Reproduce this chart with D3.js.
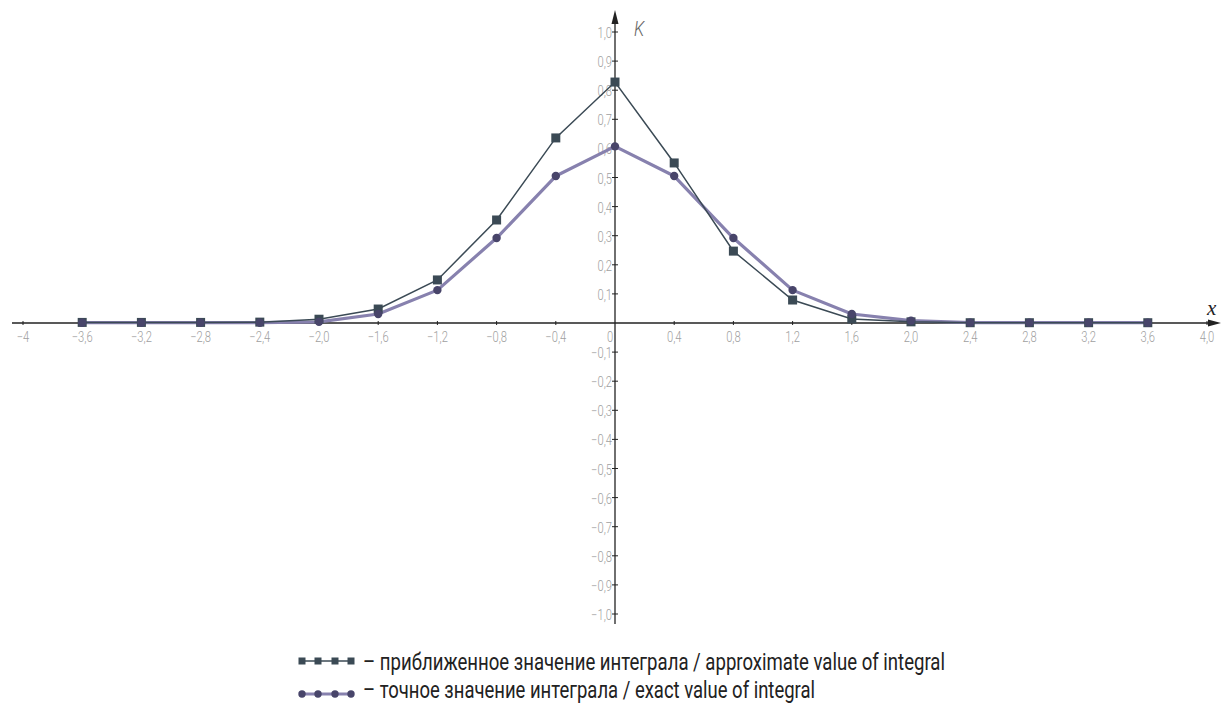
<!DOCTYPE html>
<html><head><meta charset="utf-8">
<script src="https://cdn.jsdelivr.net/npm/d3@7"></script>
<style>
body{margin:0;background:#fff;}
svg{display:block;}
.tick-label{font-family:"Roboto",sans-serif;font-size:14px;fill:#a0a0a0;font-weight:300;}
.legend{font-family:"Roboto",sans-serif;font-size:23px;fill:#222;}
</style></head>
<body>
<svg id="chart" width="1221" height="704"></svg>
<script>
const xValues = [-3.6,-3.2,-2.8,-2.4,-2.0,-1.6,-1.2,-0.8,-0.4,0,0.4,0.8,1.2,1.6,2.0,2.4,2.8,3.2,3.6];
const approxValues = [0.002,0.002,0.002,0.003,0.013,0.048,0.148,0.354,0.636,0.828,0.550,0.247,0.079,0.014,0.004,0.001,0.001,0.001,0.001];
const exactValues = [0.001,0.001,0.001,0.001,0.004,0.031,0.113,0.292,0.505,0.607,0.505,0.292,0.113,0.031,0.008,0.001,0.001,0.001,0.001];
const xTicks = [-4,-3.6,-3.2,-2.8,-2.4,-2.0,-1.6,-1.2,-0.8,-0.4,0,0.4,0.8,1.2,1.6,2.0,2.4,2.8,3.2,3.6,4.0];
const yTicks = [-1.0,-0.9,-0.8,-0.7,-0.6,-0.5,-0.4,-0.3,-0.2,-0.1,0.1,0.2,0.3,0.4,0.5,0.6,0.7,0.8,0.9,1.0];
const legendLabels = ["– приближенное значение интеграла / approximate value of integral","– точное значение интеграла / exact value of integral"];

const svg = d3.select("#chart");
const x = d3.scaleLinear().domain([-4,4]).range([23,1207]);
const y = d3.scaleLinear().domain([-1,1]).range([614,32]);
const axisCol = "#222";
const approxCol = "#3b4a55";
const exactLine = "#8781ae";
const exactDot = "#48456a";
const SX = 0.8;

function fmt(v, xaxis){
  let s;
  if (v===0) return "0";
  if (xaxis && v===-4) s="4"; else s=Math.abs(v).toFixed(1).replace(".",",");
  return (v<0?"\u2212":"")+s;
}
function label(g, px, py, anchor, txt){
  g.append("text").attr("class","tick-label")
   .attr("transform",`translate(${px},${py}) scale(${SX},1)`)
   .attr("text-anchor",anchor).text(txt);
}

// x axis line
svg.append("line").attr("x1",12).attr("x2",1212).attr("y1",y(0)).attr("y2",y(0)).attr("stroke",axisCol).attr("stroke-width",1.3);
svg.append("path").attr("d",`M1221,${y(0)} L1208,${y(0)-3.5} L1208,${y(0)+3.5} Z`).attr("fill",axisCol);
// y axis line
svg.append("line").attr("x1",x(0)).attr("x2",x(0)).attr("y1",22).attr("y2",624).attr("stroke",axisCol).attr("stroke-width",1.3);
svg.append("path").attr("d",`M${x(0)},10 L${x(0)-3.5},24 L${x(0)+3.5},24 Z`).attr("fill",axisCol);

// x ticks
const xt = svg.append("g");
xTicks.forEach(v=>{
  if (v!==0) xt.append("line").attr("x1",x(v)).attr("x2",x(v)).attr("y1",y(0)-2).attr("y2",y(0)+2).attr("stroke",axisCol).attr("stroke-width",1);
  label(xt, v===0?x(v)-5:x(v), y(0)+19, "middle", fmt(v,true));
});
// y ticks
const yt = svg.append("g");
yTicks.forEach(v=>{
  yt.append("line").attr("x1",x(0)-3).attr("x2",x(0)+3).attr("y1",y(v)).attr("y2",y(v)).attr("stroke",axisCol).attr("stroke-width",1);
  label(yt, x(0)-3, y(v)+6, "end", fmt(v,false));
});

// axis names
svg.append("text").attr("transform","translate(634,36) scale(0.8,1)").attr("font-family","Roboto, sans-serif").attr("font-weight",300).attr("font-style","italic").attr("font-size",21).attr("fill","#666").text("K");
svg.append("text").attr("x",1207).attr("y",315).attr("font-family","Liberation Serif, serif").attr("font-style","italic").attr("font-size",21).attr("fill","#222").text("x");

const line = (vals)=>d3.line().x((d,i)=>x(xValues[i])).y(d=>y(d))(vals);

// exact line
svg.append("path").attr("d",line(exactValues)).attr("fill","none").attr("stroke",exactLine).attr("stroke-width",3.2).attr("stroke-linejoin","round");
// approx line
svg.append("path").attr("d",line(approxValues)).attr("fill","none").attr("stroke",approxCol).attr("stroke-width",1.5);
// approx markers
svg.append("g").selectAll("rect").data(approxValues).join("rect")
  .attr("x",(d,i)=>x(xValues[i])-4.5).attr("y",d=>y(d)-4.5).attr("width",9).attr("height",9).attr("fill",approxCol);
// exact markers
svg.append("g").selectAll("circle").data(exactValues).join("circle")
  .attr("cx",(d,i)=>x(xValues[i])).attr("cy",d=>y(d)).attr("r",4.2).attr("fill",exactDot);

// legend
const lg = svg.append("g");
const ly = [661,694];
lg.append("line").attr("x1",299).attr("x2",354).attr("y1",ly[0]).attr("y2",ly[0]).attr("stroke",approxCol).attr("stroke-width",1.5);
[302,318,335,351].forEach(px=>lg.append("rect").attr("x",px-3.5).attr("y",ly[0]-3.5).attr("width",7).attr("height",7).attr("fill",approxCol));
lg.append("line").attr("x1",299).attr("x2",354).attr("y1",ly[1]).attr("y2",ly[1]).attr("stroke",exactLine).attr("stroke-width",3);
[302,318,335,351].forEach(px=>lg.append("circle").attr("cx",px).attr("cy",ly[1]).attr("r",3.7).attr("fill",exactDot));
lg.append("text").attr("class","legend").attr("x",363).attr("y",670).attr("textLength",582).attr("lengthAdjust","spacingAndGlyphs").text(legendLabels[0]);
lg.append("text").attr("class","legend").attr("x",363).attr("y",698).attr("textLength",452).attr("lengthAdjust","spacingAndGlyphs").text(legendLabels[1]);
</script>
</body></html>
